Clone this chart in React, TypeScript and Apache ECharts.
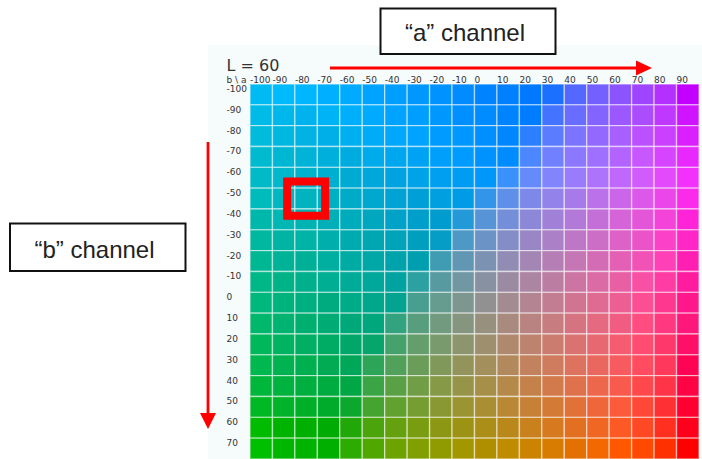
import React, { useEffect, useRef } from "react";
import * as echarts from "echarts";

const lightness = 60;
const aValues = [-100, -90, -80, -70, -60, -50, -40, -30, -20, -10, 0, 10, 20, 30, 40, 50, 60, 70, 80, 90];
const bValues = [-100, -90, -80, -70, -60, -50, -40, -30, -20, -10, 0, 10, 20, 30, 40, 50, 60, 70];
const aTickLabels = ["-100", "-90", "-80", "-70", "-60", "-50", "-40", "-30", "-20", "-10", "0", "10", "20", "30", "40", "50", "60", "70", "80", "90"];
const bTickLabels = ["-100", "-90", "-80", "-70", "-60", "-50", "-40", "-30", "-20", "-10", "0", "10", "20", "30", "40", "50", "60", "70"];
const titleText = "L = 60";
const cornerLabel = "b \\ a";
const aChannelLabel = "\u201Ca\u201D channel";
const bChannelLabel = "\u201Cb\u201D channel";
const highlightCell = [-80, -50];

// ---- Lab -> sRGB colour conversion (D65), out-of-gamut colours mapped to the
// nearest sRGB surface colour with lightness weighted more than chroma ----
const Xn = 0.95047, Yn = 1.0, Zn = 1.08883;
const EPS = 6 / 29;
const L_WEIGHT = 2.0;

function labToLinear(L: number, a: number, b: number): number[] {
  const fy = (L + 16) / 116, fx = fy + a / 500, fz = fy - b / 200;
  const finv = (t: number) => (t > EPS ? t * t * t : 3 * EPS * EPS * (t - 4 / 29));
  const X = Xn * finv(fx), Y = Yn * finv(fy), Z = Zn * finv(fz);
  return [
    3.2404542 * X - 1.5371385 * Y - 0.4985314 * Z,
    -0.969266 * X + 1.8760108 * Y + 0.041556 * Z,
    0.0556434 * X - 0.2040259 * Y + 1.0572252 * Z,
  ];
}
function linearToLab(r: number, g: number, b: number): number[] {
  const X = 0.4124564 * r + 0.3575761 * g + 0.1804375 * b;
  const Y = 0.2126729 * r + 0.7151522 * g + 0.072175 * b;
  const Z = 0.0193339 * r + 0.119192 * g + 0.9503041 * b;
  const f = (t: number) => (t > EPS * EPS * EPS ? Math.cbrt(t) : t / (3 * EPS * EPS) + 4 / 29);
  const fx = f(X / Xn), fy = f(Y / Yn), fz = f(Z / Zn);
  return [116 * fy - 16, 500 * (fx - fy), 200 * (fy - fz)];
}
const decode = (c: number) => (c <= 0.04045 ? c / 12.92 : Math.pow((c + 0.055) / 1.055, 2.4));
const encode = (c: number) => {
  const v = Math.min(1, Math.max(0, c));
  return v <= 0.0031308 ? 12.92 * v : 1.055 * Math.pow(v, 1 / 2.4) - 0.055;
};

let surface: { rgb: number[]; lab: number[] }[] | null = null;
function getSurface() {
  if (surface) return surface;
  surface = [];
  const N = 64;
  for (let ch = 0; ch < 3; ch++) {
    for (const fixed of [0, 1]) {
      for (let i = 0; i <= N; i++) {
        for (let j = 0; j <= N; j++) {
          const enc = [0, 0, 0];
          const others = [0, 1, 2].filter((k) => k !== ch);
          enc[ch] = fixed;
          enc[others[0]] = i / N;
          enc[others[1]] = j / N;
          const lin = enc.map(decode);
          surface.push({ rgb: enc, lab: linearToLab(lin[0], lin[1], lin[2]) });
        }
      }
    }
  }
  return surface;
}

function labToHex(L: number, a: number, b: number): string {
  const lin = labToLinear(L, a, b);
  let enc: number[];
  if (lin.every((c) => c >= -1e-6 && c <= 1 + 1e-6)) {
    enc = lin.map(encode);
  } else {
    let best = Infinity;
    enc = [0, 0, 0];
    for (const p of getSurface()) {
      const d = (L_WEIGHT * (p.lab[0] - L)) ** 2 + (p.lab[1] - a) ** 2 + (p.lab[2] - b) ** 2;
      if (d < best) {
        best = d;
        enc = p.rgb;
      }
    }
  }
  return "#" + enc.map((c) => Math.round(c * 255).toString(16).padStart(2, "0")).join("");
}

const FONT = "DejaVu Sans";
const BOX_FONT = "Liberation Sans";
const RED = "#ff0000";

export default function App() {
  const ref = useRef<HTMLDivElement>(null);

  useEffect(() => {
    if (!ref.current) return;
    const chart = echarts.init(ref.current, undefined, { renderer: "svg" });

    const data: any[] = [];
    bValues.forEach((bv, j) => {
      aValues.forEach((av, i) => {
        data.push({ value: [i, j, lightness], itemStyle: { color: labToHex(lightness, av, bv) } });
      });
    });

    const labelStyle = { fontSize: 9, color: "#333", fontFamily: FONT };

    chart.setOption({
      animation: false,
      textStyle: { fontFamily: FONT },
      grid: { left: 250, top: 84, width: 460, height: 376, containLabel: false },
      xAxis: [
        { type: "category", data: aTickLabels, show: false, gridIndex: 0 },
        {
          type: "value",
          gridIndex: 0,
          position: "top",
          min: -100,
          max: 100,
          interval: 10,
          axisLine: { show: false },
          axisTick: { show: false },
          splitLine: { show: false },
          axisLabel: {
            ...labelStyle,
            align: "left",
            verticalAlign: "middle",
            margin: 4.5,
            formatter: (v: number) => {
              const idx = aValues.indexOf(Math.round(v));
              return idx >= 0 ? aTickLabels[idx] : "";
            },
          },
        },
      ],
      yAxis: {
        type: "category",
        data: bTickLabels,
        inverse: true,
        axisLine: { show: false },
        axisTick: { show: false },
        splitLine: { show: false },
        axisLabel: { ...labelStyle, align: "left", verticalAlign: "bottom", margin: 23.5, interval: 0, padding: [0, 0, 1, 0] },
      },
      series: [
        {
          type: "custom",
          xAxisIndex: 0,
          yAxisIndex: 0,
          data,
          silent: true,
          renderItem: (params: any, api: any) => {
            const p = api.coord([api.value(0), api.value(1)]);
            const s = api.size([1, 1]);
            return {
              type: "rect",
              shape: { x: p[0] - s[0] / 2, y: p[1] - s[1] / 2, width: s[0], height: s[1] },
              style: { fill: api.visual("color"), stroke: "rgba(255,255,255,0.5)", lineWidth: 1.4 },
            };
          },
        },
      ],
      graphic: {
        elements: [
          { type: "rect", z: -10, silent: true, shape: { x: 208, y: 45, width: 494, height: 414 }, style: { fill: "#f6fbfb" } },
          { type: "text", x: 226.5, y: 65.5, style: { text: titleText, fontSize: 16, fontFamily: FONT, fill: "#333", verticalAlign: "middle" } },
          { type: "text", x: 226.5, y: 79.5, style: { text: cornerLabel, fontSize: 9, fontFamily: FONT, fill: "#333", verticalAlign: "middle" } },
          { type: "rect", z: 50, shape: { x: 380.5, y: 8.5, width: 175, height: 45.5 }, style: { fill: "#fff", stroke: "#111", lineWidth: 2 } },
          { type: "text", z: 51, x: 465, y: 32.5, style: { text: aChannelLabel, fontSize: 24, fontFamily: BOX_FONT, fill: "#222", align: "center", verticalAlign: "middle" } },
          { type: "rect", z: 50, shape: { x: 10, y: 223.5, width: 175.5, height: 47.5 }, style: { fill: "#fff", stroke: "#111", lineWidth: 2 } },
          { type: "text", z: 51, x: 94.5, y: 249, style: { text: bChannelLabel, fontSize: 24, fontFamily: BOX_FONT, fill: "#222", align: "center", verticalAlign: "middle" } },
          { type: "line", z: 60, shape: { x1: 330, y1: 68, x2: 640, y2: 68 }, style: { stroke: RED, lineWidth: 2.8 } },
          { type: "polygon", z: 60, shape: { points: [[636, 60.5], [652, 68], [636, 75.5]] }, style: { fill: RED } },
          { type: "line", z: 60, shape: { x1: 208, y1: 142, x2: 208, y2: 417 }, style: { stroke: RED, lineWidth: 2.8 } },
          { type: "polygon", z: 60, shape: { points: [[200, 413], [216, 413], [208, 429]] }, style: { fill: RED } },
        ],
      },
    });

    // highlight square around the chosen cell, placed through the axes
    const ci = aValues.indexOf(highlightCell[0]);
    const cj = bValues.indexOf(highlightCell[1]);
    const c = chart.convertToPixel({ xAxisIndex: 0, yAxisIndex: 0 } as any, [ci, cj]) as number[];
    const c2 = chart.convertToPixel({ xAxisIndex: 0, yAxisIndex: 0 } as any, [ci + 1, cj + 1]) as number[];
    const cw = Math.abs(c2[0] - c[0]);
    const chh = Math.abs(c2[1] - c[1]);
    const w = cw + 15.5, h = chh + 13.5;
    chart.setOption({
      graphic: {
        elements: [
          {
            id: "highlight",
            type: "rect",
            z: 70,
            shape: { x: c[0] - w / 2, y: c[1] - h / 2, width: w, height: h },
            style: { fill: "none", stroke: RED, lineWidth: 8 },
          },
        ],
      },
    });

    return () => chart.dispose();
  }, []);

  return <div ref={ref} style={{ position: "absolute", left: 0, top: 0, width: 702, height: 459 }} />;
}
